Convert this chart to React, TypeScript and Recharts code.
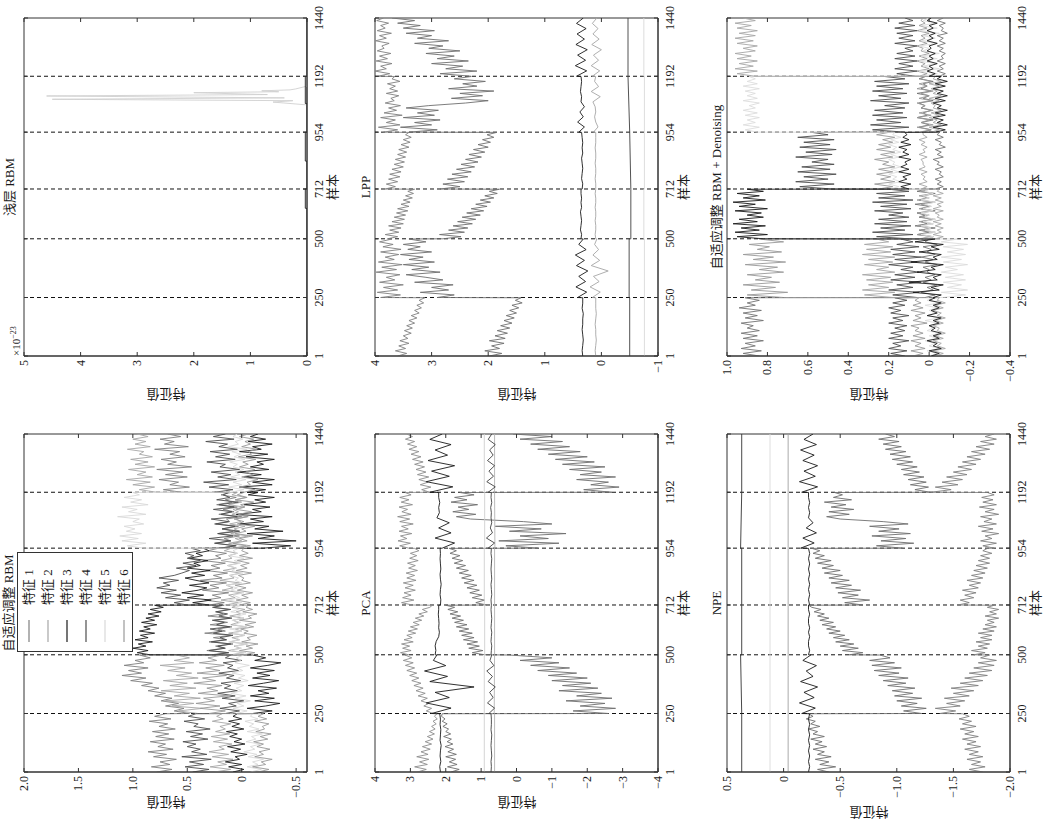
import React from "react";
import { LineChart, Line, XAxis, YAxis, ReferenceLine, ReferenceArea } from "recharts";

// sample axis (样本) and the fault boundaries
const sampleTicks = [1, 250, 500, 712, 954, 1192, 1440];
const faultBounds = [250, 500, 712, 954, 1192];

// read-off positions, 24 per fault segment (noisy traces)
const denseGrid = [
  1, 12, 23, 33, 44, 55, 66, 76, 87, 98, 109, 120, 130, 141, 152, 163, 173, 184, 195, 206, 217, 227, 238, 249,
  250, 261, 272, 282, 293, 304, 315, 325, 336, 347, 358, 369, 379, 390, 401, 412, 422, 433, 444, 455, 466, 476, 487, 499,
  500, 509, 518, 528, 537, 546, 555, 564, 573, 583, 592, 601, 610, 619, 628, 638, 647, 656, 665, 674, 683, 693, 702, 711,
  712, 722, 733, 743, 754, 764, 775, 785, 796, 806, 817, 827, 838, 848, 859, 869, 880, 890, 901, 911, 922, 932, 943, 953,
  954, 964, 975, 985, 995, 1006, 1016, 1026, 1036, 1047, 1057, 1067, 1078, 1088, 1098, 1109, 1119, 1129, 1139, 1150, 1160, 1170, 1181, 1191,
  1192, 1203, 1214, 1224, 1235, 1246, 1257, 1267, 1278, 1289, 1300, 1311, 1321, 1332, 1343, 1354, 1365, 1375, 1386, 1397, 1408, 1418, 1429, 1440,
];
// 12 per segment (mostly quiet traces)
const sampleGrid = [
  1, 24, 46, 69, 91, 114, 136, 159, 181, 204, 226, 249,
  250, 273, 295, 318, 340, 363, 386, 408, 431, 454, 476, 499,
  500, 519, 538, 557, 577, 596, 615, 634, 654, 673, 692, 711,
  712, 734, 756, 778, 800, 822, 843, 865, 887, 909, 931, 953,
  954, 976, 997, 1019, 1040, 1062, 1083, 1105, 1127, 1148, 1170, 1191,
  1192, 1215, 1237, 1260, 1282, 1305, 1327, 1350, 1372, 1395, 1417, 1440,
];
// flat traces: start/end of each segment
const flatGrid = [1, 249, 250, 499, 500, 711, 712, 953, 954, 1191, 1192, 1440];
const edgeGrid = [1, 1440];

const featureNames = ["特征 1", "特征 2", "特征 3", "特征 4", "特征 5", "特征 6"];
const featureColors = ["#7f7f7f", "#a6a6a6", "#1a1a1a", "#4d4d4d", "#d9d9d9", "#999999"];

// ---- 自适应调整 RBM ----
const adaptF1 = [
  .78, .64, .83, .66, .75, .60, .81, .69, .86, .63, .77, .70, .84, .62, .79, .67, .82, .61, .76, .68, .85, .65, .80, .70,
  .48, .62, .53, .70, .58, .74, .64, .80, .70, .86, .76, .92, .82, 1.02, .88, 1.10, .92, 1.04, .86, 1.08, .90, .98, .84, .94,
  .28, .12, .32, .16, .24, .08, .30, .14, .26, .10, .34, .15, .22, .09, .29, .13, .25, .11, .31, .17, .23, .12, .27, .16,
  .30, .16, .34, .19, .27, .12, .36, .21, .29, .14, .38, .18, .26, .13, .33, .20, .28, .15, .35, .19, .24, .14, .31, .22,
  .20, .06, .24, .10, .16, .02, .22, .08, .18, .03, .25, .11, .14, .00, .21, .07, .17, .04, .23, .09, .15, .05, .19, .10,
  .55, .72, .48, .66, .58, .76, .50, .70, .54, .78, .46, .68, .60, .74, .52, .66, .57, .80, .49, .71, .62, .75, .56, .68,
];
const adaptF2 = [
  .25, .10, .29, .14, .22, .08, .27, .12, .30, .16, .21, .09, .26, .13, .28, .11, .24, .15, .20, .10, .27, .17, .23, .18,
  .40, .58, .36, .64, .44, .70, .38, .62, .48, .74, .42, .66, .50, .72, .40, .60, .46, .68, .52, .75, .44, .62, .48, .60,
  .10, -.02, .12, .01, .07, -.05, .11, .02, .09, -.03, .12, .00, .06, -.04, .10, .03, .08, -.02, .11, .01, .05, -.03, .09, .04,
  .15, .03, .19, .06, .12, .00, .18, .08, .14, .02, .20, .07, .11, .01, .17, .05, .13, .03, .19, .09, .12, .04, .16, .10,
  .08, -.04, .12, .00, .06, -.06, .10, .02, .07, -.03, .11, .01, .05, -.05, .09, .03, .08, -.02, .12, .00, .06, -.04, .09, .04,
  .78, .94, .80, 1.00, .84, 1.06, .82, .96, .88, 1.04, .80, .98, .86, 1.02, .82, .94, .90, 1.05, .84, .98, .88, 1.00, .86, .96,
];
const adaptF3 = [
  .08, -.02, .12, .00, .15, .02, .06, -.05, .10, .01, .13, -.03, .07, .00, .11, .04, .14, -.02, .09, .02, .12, .00, .08, .04,
  -.10, -.28, -.05, -.22, -.35, -.12, -.30, -.08, -.25, -.15, -.32, -.06, -.20, -.34, -.10, -.26, -.14, -.30, -.08, -.24, -.36, -.12, -.22, -.10,
  .84, .96, .86, 1.00, .88, .95, .82, .98, .86, .93, .80, .94, .84, .90, .78, .92, .80, .88, .76, .86, .74, .84, .72, .80,
  .30, .45, .28, .50, .35, .55, .40, .32, .48, .30, .42, .52, .34, .46, .29, .50, .38, .44, .31, .48, .36, .42, .30, .35,
  -.20, -.45, -.10, -.50, -.15, -.30, -.05, -.38, -.12, -.25, .02, -.20, -.08, -.28, .05, -.18, -.10, -.26, -.02, -.22, -.12, -.30, -.06, -.15,
  -.05, -.22, .02, -.28, -.10, -.30, -.02, -.18, .04, -.25, -.08, -.20, -.14, -.30, -.04, -.24, .02, -.18, -.10, -.28, -.06, -.22, -.08, -.15,
];
const adaptF4 = [
  .45, .30, .52, .35, .48, .28, .55, .32, .46, .38, .50, .42, .54, .31, .47, .36, .51, .29, .44, .40, .53, .34, .49, .42,
  .15, .02, .20, .05, .12, -.02, .18, .06, .22, .04, .16, .10, .19, .01, .14, .07, .21, .03, .13, .08, .17, .00, .15, .10,
  .25, .12, .30, .15, .22, .10, .28, .14, .20, .08, .26, .18, .29, .11, .23, .16, .27, .09, .21, .13, .24, .10, .26, .18,
  .50, .62, .48, .70, .56, .74, .60, .78, .66, .72, .58, .76, .62, .55, .48, .60, .42, .54, .38, .50, .44, .52, .38, .46,
  .20, .05, .25, .10, .30, .08, .22, .02, .18, .06, .24, .12, .28, .04, .19, .09, .26, .07, .21, .03, .23, .11, .17, .12,
  .25, .08, .30, .12, .35, .05, .22, .10, .28, .02, .20, .15, .32, .06, .24, .11, .29, .04, .21, .13, .33, .07, .26, .15,
];
const adaptF5 = [
  -.08, -.18, -.05, -.15, -.10, -.20, -.06, -.14, -.02, -.12, -.08, -.17, -.04, -.13, -.09, -.19, -.05, -.16, -.07, -.11, -.03, -.15, -.08, -.10,
  .05, -.05, .08, -.02, .04, -.08, .06, -.04, .10, .00, .05, -.02, .07, -.06, .03, -.03, .09, -.01, .04, -.07, .06, .01, .05, -.02,
  .08, -.04, .10, .00, .06, -.06, .12, .02, .05, -.03, .08, .00, .11, -.05, .07, .01, .09, -.02, .04, -.04, .10, .03, .06, .00,
  .10, .00, .12, .02, .08, -.02, .10, .04, .14, .00, .06, .03, .11, -.01, .09, .05, .13, .01, .07, -.02, .12, .04, .08, .03,
  .90, 1.05, .88, 1.10, .95, 1.12, .92, 1.06, .98, 1.08, .90, 1.00, .94, 1.14, .88, 1.04, .96, 1.10, .86, 1.02, .92, 1.08, .94, 1.00,
  .10, -.02, .12, .00, .08, -.04, .10, .02, .06, -.02, .08, .04, .11, -.03, .07, .01, .09, -.05, .12, .03, .06, -.01, .08, .04,
];
const adaptF6 = [
  -.15, -.25, -.10, -.22, -.18, -.28, -.12, -.20, -.16, -.26, -.14, -.20, -.11, -.24, -.17, -.27, -.13, -.21, -.19, -.25, -.12, -.23, -.15, -.20,
  .30, .15, .38, .20, .42, .25, .35, .12, .40, .22, .32, .18, .44, .24, .36, .14, .41, .20, .33, .16, .39, .23, .31, .18,
  -.02, -.12, .02, -.10, -.04, -.15, .00, -.08, -.05, -.14, -.02, -.06, .01, -.11, -.03, -.13, .02, -.09, -.06, -.14, -.01, -.10, -.04, -.06,
  .02, -.08, .05, -.06, .00, -.10, .04, -.04, .06, -.08, .00, -.02, .03, -.09, .05, -.05, .01, -.07, .04, -.10, .02, -.06, .00, -.02,
  .05, -.08, .08, -.05, .02, -.10, .06, -.04, .00, -.12, .04, -.02, .07, -.06, .03, -.09, .05, -.03, .01, -.11, .06, -.05, .04, -.02,
  -.02, -.12, .02, -.08, -.05, -.15, .00, -.10, -.04, -.12, .02, -.06, -.01, -.13, .03, -.09, -.06, -.14, .00, -.08, -.03, -.11, .02, -.06,
];

// ---- 浅层 RBM (×10^-23) ----
const shallowZero = [0, 0];
const shallowF3X = [1, 629, 630, 712, 713, 830, 831, 953, 954, 1075, 1076, 1191, 1192, 1440];
const shallowF3 = [0, 0, 0.03, 0.03, 0, 0, 0.03, 0.03, 0, 0, 0.03, 0.03, 0, 0];
const shallowF5X = [1, 1070, 1076, 1082, 1088, 1094, 1100, 1108, 1114, 1122, 1126, 1130, 1134, 1138, 1150, 1440];
const shallowF5 = [0, 0, 0.3, 0.6, 0.25, 4.5, 0.4, 4.6, 0.7, 2.0, 0.5, 0.8, 0.3, 0.2, 0, 0];

// ---- PCA ----
const pcaF1 = [
  2.80, 2.55, 2.88, 2.52, 2.74, 2.48, 2.82, 2.50, 2.70, 2.44, 2.66, 2.40, 2.58, 2.36, 2.52, 2.32, 2.46, 2.30, 2.40, 2.27, 2.36, 2.24, 2.32, 2.25,
  2.35, 2.55, 2.40, 2.62, 2.48, 2.70, 2.52, 2.78, 2.58, 2.84, 2.64, 2.90, 2.70, 2.96, 2.76, 3.02, 2.82, 3.10, 2.88, 3.14, 2.92, 3.20, 2.96, 3.15,
  3.05, 3.28, 2.98, 3.22, 3.02, 3.25, 2.92, 3.18, 2.95, 3.10, 2.85, 3.06, 2.80, 3.00, 2.75, 2.92, 2.68, 2.86, 2.62, 2.76, 2.52, 2.66, 2.45, 2.38,
  2.95, 3.25, 2.90, 3.22, 2.98, 3.18, 2.86, 3.15, 2.92, 3.20, 2.84, 3.10, 2.88, 3.12, 2.80, 3.05, 2.86, 3.08, 2.78, 3.02, 2.82, 3.00, 2.76, 2.88,
  3.05, 3.30, 3.00, 3.35, 3.10, 3.28, 2.96, 3.32, 3.06, 3.25, 2.92, 3.30, 3.02, 3.36, 2.98, 3.24, 3.08, 3.32, 2.94, 3.26, 3.04, 3.30, 2.98, 3.15,
  2.45, 2.68, 2.42, 2.72, 2.50, 2.76, 2.48, 2.80, 2.56, 2.84, 2.60, 2.88, 2.64, 2.94, 2.70, 2.98, 2.76, 3.04, 2.82, 3.08, 2.88, 3.14, 2.94, 3.10,
];
const pcaF2 = [
  1.85, 1.62, 1.95, 1.68, 1.90, 1.72, 2.00, 1.70, 1.94, 1.78, 2.02, 1.80, 1.96, 1.84, 2.06, 1.86, 2.00, 1.92, 2.08, 1.96, 2.10, 2.02, 2.12, 2.10,
  -2.60, -1.60, -2.80, -1.80, -2.50, -1.40, -2.70, -1.70, -2.40, -1.20, -2.30, -1.30, -2.10, -1.00, -2.00, -0.90, -1.70, -0.60, -1.50, -0.40, -1.20, -0.10, -1.00, 0.20,
  .90, 1.25, .95, 1.35, 1.05, 1.40, 1.10, 1.50, 1.20, 1.55, 1.25, 1.62, 1.35, 1.70, 1.40, 1.75, 1.50, 1.82, 1.58, 1.88, 1.66, 1.94, 1.75, 2.00,
  .85, 1.15, .90, 1.25, .98, 1.32, 1.05, 1.40, 1.12, 1.48, 1.20, 1.55, 1.28, 1.62, 1.36, 1.70, 1.44, 1.76, 1.52, 1.82, 1.60, 1.88, 1.70, 1.90,
  -0.60, 0.30, -1.20, 0.50, -0.90, -0.10, -1.40, 0.20, -0.70, 0.60, -1.00, -0.20, 1.30, 1.70, 1.15, 1.80, 1.35, 1.65, 1.10, 1.85, 1.40, 1.75, 1.20, 1.60,
  -2.70, -1.90, -2.90, -2.10, -2.60, -1.70, -2.80, -1.80, -2.40, -1.50, -2.50, -1.30, -2.20, -1.10, -2.00, -0.90, -1.80, -0.60, -1.50, -0.40, -1.30, -0.10, -1.00, 0.10,
];
const pcaF3 = [
  2.15, 2.17, 2.14, 2.16, 2.15, 2.13, 2.16, 2.15, 2.14, 2.16, 2.15, 2.17,
  2.40, 1.85, 2.55, 1.90, 2.30, 1.20, 2.45, 1.95, 2.60, 2.00, 2.35, 2.25,
  2.30, 2.28, 2.30, 2.27, 2.20, 2.18, 2.20, 2.19, 2.20, 2.21, 2.20, 2.20,
  2.15, 2.14, 2.16, 2.15, 2.13, 2.15, 2.16, 2.14, 2.15, 2.16, 2.15, 2.16,
  2.10, 1.75, 2.30, 1.85, 2.20, 1.90, 2.25, 2.18, 2.20, 2.17, 2.20, 2.20,
  2.45, 1.80, 2.55, 1.90, 2.40, 1.75, 2.50, 1.95, 2.30, 1.85, 2.45, 2.10,
];
const pcaF4 = [0.91, 0.91, 0.91, 0.91, 0.9, 0.9, 0.91, 0.91, 0.9, 0.9, 0.91, 0.91];
const pcaF5 = [
  0.72, 0.71, 0.72, 0.70, 0.71, 0.72, 0.71, 0.70, 0.72, 0.71, 0.71, 0.72,
  0.78, 0.62, 0.82, 0.66, 0.76, 0.60, 0.80, 0.68, 0.84, 0.64, 0.75, 0.70,
  0.72, 0.71, 0.70, 0.72, 0.71, 0.70, 0.72, 0.71, 0.70, 0.71, 0.72, 0.71,
  0.71, 0.72, 0.70, 0.71, 0.72, 0.70, 0.71, 0.72, 0.71, 0.70, 0.72, 0.71,
  0.80, 0.62, 0.85, 0.68, 0.74, 0.70, 0.72, 0.71, 0.73, 0.70, 0.72, 0.71,
  0.80, 0.60, 0.84, 0.65, 0.78, 0.62, 0.82, 0.66, 0.76, 0.60, 0.80, 0.70,
];
const pcaF6 = [0.62, 0.62, 0.63, 0.62, 0.62, 0.62, 0.62, 0.62, 0.61, 0.62, 0.62, 0.62];

// ---- LPP ----
const lppF1 = [
  3.60, 3.44, 3.64, 3.46, 3.58, 3.40, 3.56, 3.42, 3.50, 3.36, 3.48, 3.34, 3.44, 3.30, 3.40, 3.26, 3.36, 3.22, 3.30, 3.18, 3.26, 3.14, 3.22, 3.12,
  3.90, 3.55, 3.96, 3.60, 3.85, 3.50, 3.92, 3.65, 3.80, 3.56, 3.98, 3.62, 3.88, 3.52, 3.94, 3.66, 3.82, 3.58, 3.90, 3.54, 3.86, 3.68, 3.92, 3.70,
  3.78, 3.60, 3.82, 3.58, 3.74, 3.54, 3.76, 3.50, 3.70, 3.48, 3.66, 3.46, 3.62, 3.42, 3.60, 3.40, 3.54, 3.38, 3.50, 3.34, 3.46, 3.32, 3.42, 3.30,
  3.82, 3.64, 3.80, 3.60, 3.76, 3.56, 3.74, 3.54, 3.70, 3.50, 3.66, 3.48, 3.64, 3.46, 3.60, 3.44, 3.58, 3.40, 3.54, 3.38, 3.50, 3.36, 3.46, 3.40,
  3.85, 3.60, 3.94, 3.56, 3.80, 3.64, 3.90, 3.52, 3.84, 3.62, 3.76, 3.55, 3.82, 3.66, 3.72, 3.58, 3.80, 3.60, 3.74, 3.64, 3.78, 3.56, 3.70, 3.65,
  3.95, 3.74, 4.00, 3.80, 3.90, 3.70, 3.98, 3.78, 3.92, 3.72, 3.96, 3.84, 3.88, 3.75, 3.99, 3.80, 3.92, 3.71, 3.96, 3.82, 3.90, 3.76, 3.97, 3.85,
];
const lppF2 = [
  1.98, 1.76, 2.06, 1.80, 1.94, 1.72, 1.98, 1.70, 1.88, 1.66, 1.84, 1.62, 1.78, 1.58, 1.72, 1.54, 1.68, 1.50, 1.62, 1.46, 1.58, 1.40, 1.52, 1.42,
  2.90, 2.60, 3.20, 2.70, 3.00, 2.62, 3.30, 2.80, 3.10, 3.45, 2.85, 3.35, 3.05, 3.50, 2.95, 3.40, 3.15, 3.55, 3.00, 3.42, 3.20, 3.50, 3.10, 3.40,
  2.80, 2.48, 2.86, 2.42, 2.70, 2.36, 2.62, 2.28, 2.54, 2.22, 2.46, 2.14, 2.38, 2.08, 2.30, 2.02, 2.22, 1.96, 2.14, 1.90, 2.06, 1.84, 1.98, 1.80,
  2.85, 2.50, 2.80, 2.42, 2.72, 2.36, 2.64, 2.30, 2.56, 2.24, 2.48, 2.18, 2.40, 2.12, 2.34, 2.06, 2.26, 2.00, 2.18, 1.96, 2.10, 1.90, 2.02, 1.85,
  3.40, 2.90, 3.55, 3.00, 3.30, 2.85, 3.50, 2.95, 3.25, 2.88, 3.45, 3.05, 2.40, 2.00, 2.65, 2.10, 2.50, 1.90, 2.70, 2.20, 2.45, 2.05, 2.60, 2.30,
  2.30, 2.85, 2.20, 2.75, 2.45, 3.00, 2.35, 2.90, 2.60, 3.10, 2.50, 3.05, 2.80, 3.30, 2.70, 3.25, 3.00, 3.45, 2.95, 3.50, 3.20, 3.60, 3.30, 3.70,
];
const lppF3 = [
  0.33, 0.34, 0.33, 0.32, 0.33, 0.34, 0.33, 0.33, 0.32, 0.34, 0.33, 0.33,
  0.42, 0.26, 0.45, 0.28, 0.40, 0.24, 0.44, 0.30, 0.46, 0.27, 0.40, 0.32,
  0.36, 0.35, 0.37, 0.36, 0.35, 0.36, 0.37, 0.35, 0.36, 0.35, 0.36, 0.36,
  0.34, 0.33, 0.35, 0.34, 0.33, 0.34, 0.35, 0.33, 0.34, 0.33, 0.34, 0.35,
  0.40, 0.30, 0.42, 0.32, 0.38, 0.30, 0.36, 0.35, 0.37, 0.36, 0.35, 0.36,
  0.44, 0.26, 0.46, 0.28, 0.42, 0.25, 0.45, 0.30, 0.43, 0.27, 0.44, 0.32,
];
const lppF4 = [
  0.10, 0.11, 0.10, 0.09, 0.10, 0.10, 0.11, 0.10, 0.09, 0.10, 0.10, 0.10,
  0.16, 0.02, 0.20, 0.04, 0.14, -0.12, 0.18, 0.03, 0.15, 0.05, 0.12, 0.08,
  0.10, 0.11, 0.10, 0.10, 0.11, 0.10, 0.10, 0.11, 0.10, 0.10, 0.11, 0.10,
  0.10, 0.10, 0.11, 0.10, 0.10, 0.11, 0.10, 0.10, 0.11, 0.10, 0.10, 0.10,
  0.14, 0.06, 0.10, 0.12, 0.10, 0.11, 0.15, 0.02, 0.18, 0.05, 0.12, 0.10,
  0.16, 0.03, 0.18, 0.05, 0.14, 0.00, 0.17, 0.04, 0.15, 0.06, 0.16, 0.08,
];
const lppF5 = [-0.5, -0.5, -0.49, -0.49, -0.52, -0.52, -0.52, -0.5, -0.5, -0.47, -0.47, -0.47];
const lppF6 = [-0.76, -0.76, -0.76, -0.76, -0.75, -0.75, -0.76, -0.76, -0.76, -0.76, -0.75, -0.75];

// ---- NPE ----
const npeF1 = [0.37, 0.37, 0.37, 0.38, 0.37, 0.37, 0.37, 0.37, 0.38, 0.37, 0.37, 0.37];
const npeF2 = [0.12, 0.12, 0.12, 0.12, 0.12, 0.12, 0.12, 0.12, 0.12, 0.12, 0.12, 0.12];
const npeF3 = [-0.04, -0.04, -0.04, -0.04, -0.04, -0.04, -0.04, -0.04, -0.04, -0.04, -0.04, -0.04];
const npeF4 = [
  -0.22, -0.23, -0.22, -0.23, -0.22, -0.23, -0.22, -0.23, -0.22, -0.23, -0.22, -0.23,
  -0.16, -0.28, -0.14, -0.27, -0.18, -0.30, -0.15, -0.26, -0.20, -0.29, -0.17, -0.24,
  -0.22, -0.23, -0.22, -0.22, -0.23, -0.22, -0.23, -0.22, -0.22, -0.23, -0.22, -0.22,
  -0.23, -0.22, -0.23, -0.22, -0.23, -0.22, -0.23, -0.22, -0.23, -0.22, -0.23, -0.22,
  -0.15, -0.27, -0.17, -0.29, -0.20, -0.26, -0.22, -0.23, -0.22, -0.23, -0.22, -0.22,
  -0.16, -0.30, -0.14, -0.28, -0.18, -0.30, -0.17, -0.27, -0.15, -0.29, -0.18, -0.26,
];
const npeF5 = [
  -.40, -.30, -.46, -.32, -.40, -.28, -.42, -.30, -.36, -.26, -.38, -.28, -.34, -.24, -.36, -.26, -.30, -.22, -.32, -.24, -.28, -.20, -.26, -.22,
  -1.22, -1.06, -1.26, -1.04, -1.18, -1.00, -1.22, -.98, -1.14, -.96, -1.16, -.92, -1.08, -.88, -1.10, -.84, -1.02, -.80, -1.04, -.78, -.98, -.76, -.94, -.85,
  -.58, -.70, -.52, -.66, -.50, -.62, -.46, -.58, -.44, -.54, -.40, -.50, -.38, -.46, -.34, -.44, -.32, -.40, -.30, -.36, -.27, -.33, -.25, -.22,
  -.70, -.54, -.76, -.52, -.66, -.48, -.68, -.46, -.60, -.42, -.58, -.40, -.52, -.36, -.50, -.34, -.44, -.30, -.42, -.28, -.36, -.26, -.32, -.25,
  -1.05, -.82, -1.15, -.86, -1.08, -.78, -1.12, -.84, -1.02, -.76, -1.10, -.88, -.50, -.38, -.58, -.40, -.62, -.42, -.55, -.36, -.60, -.44, -.52, -.45,
  -1.30, -1.16, -1.28, -1.12, -1.26, -1.10, -1.24, -1.06, -1.20, -1.04, -1.18, -1.00, -1.14, -.96, -1.12, -.94, -1.08, -.90, -1.04, -.88, -1.02, -.84, -.98, -.90,
];
const npeF6 = [
  -1.76, -1.64, -1.78, -1.66, -1.74, -1.62, -1.76, -1.64, -1.72, -1.60, -1.74, -1.62, -1.70, -1.58, -1.72, -1.60, -1.68, -1.56, -1.70, -1.58, -1.66, -1.55, -1.64, -1.58,
  -1.38, -1.52, -1.34, -1.56, -1.44, -1.60, -1.42, -1.64, -1.50, -1.68, -1.48, -1.72, -1.56, -1.76, -1.60, -1.80, -1.64, -1.84, -1.68, -1.86, -1.72, -1.88, -1.74, -1.82,
  -1.68, -1.78, -1.66, -1.80, -1.72, -1.82, -1.70, -1.84, -1.74, -1.84, -1.72, -1.86, -1.76, -1.88, -1.78, -1.86, -1.80, -1.90, -1.78, -1.88, -1.82, -1.90, -1.80, -1.86,
  -1.54, -1.64, -1.56, -1.68, -1.60, -1.70, -1.58, -1.72, -1.64, -1.74, -1.62, -1.76, -1.66, -1.78, -1.68, -1.80, -1.70, -1.82, -1.72, -1.82, -1.74, -1.84, -1.76, -1.80,
  -1.86, -1.76, -1.88, -1.74, -1.84, -1.78, -1.90, -1.75, -1.85, -1.72, -1.88, -1.77, -1.84, -1.74, -1.90, -1.78, -1.86, -1.73, -1.88, -1.76, -1.85, -1.75, -1.86, -1.80,
  -1.30, -1.48, -1.34, -1.54, -1.40, -1.58, -1.44, -1.62, -1.50, -1.66, -1.54, -1.70, -1.58, -1.74, -1.62, -1.78, -1.66, -1.82, -1.70, -1.86, -1.74, -1.88, -1.78, -1.86,
];

// ---- 自适应调整 RBM + Denoising ----
const denoiseF1 = [
  .84, .92, .83, .93, .86, .91, .82, .92, .85, .93, .84, .90, .87, .93, .82, .91, .85, .92, .83, .94, .86, .90, .84, .91,
  .02, -.03, .04, -.02, .01, -.04, .03, -.01, .02, -.03, .01, .00, .03, -.04, .02, -.02, .04, -.03, .01, -.01, .03, -.04, .02, .00,
  .04, -.02, .06, .00, .05, -.03, .07, .01, .04, -.02, .05, .02, .06, -.03, .04, .00, .07, -.02, .05, .01, .03, -.03, .06, .02,
  -.03, -.07, -.04, -.06, -.03, -.07, -.05, -.06, -.03, -.07, -.04, -.05, -.02, -.07, -.04, -.06, -.03, -.08, -.05, -.06, -.03, -.07, -.04, -.05,
  .03, -.01, .05, .00, .04, -.02, .06, .01, .03, -.01, .04, .02, .05, -.02, .03, .00, .06, -.01, .04, .01, .03, -.02, .05, .02,
  -.05, -.08, -.04, -.07, -.05, -.08, -.04, -.07, -.06, -.08, -.05, -.07, -.04, -.08, -.05, -.07, -.04, -.09, -.06, -.07, -.05, -.08, -.04, -.07,
];
const denoiseF2 = [
  .08, .03, .09, .02, .07, .04, .09, .02, .08, .03, .07, .05, .09, .01, .08, .04, .07, .02, .09, .03, .08, .04, .07, .05,
  .72, .90, .70, .88, .76, .92, .74, .86, .78, .90, .72, .84, .75, .91, .71, .87, .77, .92, .73, .85, .79, .89, .72, .84,
  .05, -.02, .06, -.03, .04, -.01, .06, -.02, .05, -.03, .04, .00, .06, -.02, .05, -.01, .04, -.03, .06, .00, .05, -.02, .04, .00,
  .25, .18, .27, .17, .24, .19, .26, .18, .25, .17, .23, .20, .27, .18, .24, .17, .26, .19, .25, .18, .23, .17, .26, .20,
  .05, -.01, .06, -.02, .04, .00, .06, -.01, .05, -.02, .04, .02, .06, -.01, .05, .00, .04, -.02, .06, .01, .05, -.01, .04, .02,
  .05, .01, .06, .00, .04, .02, .06, .01, .05, .00, .04, .03, .06, .01, .05, .02, .04, .00, .06, .01, .05, .02, .04, .03,
];
const denoiseF3 = [
  -.01, -.05, .00, -.06, -.02, -.04, .01, -.05, -.02, -.06, -.01, -.03, .00, -.05, -.02, -.06, .01, -.04, -.01, -.05, -.02, -.06, .00, -.03,
  -.02, -.06, .08, -.05, -.01, -.07, .10, -.04, -.02, -.06, .06, -.03, -.01, -.07, .09, -.04, -.02, -.06, .05, -.05, -.01, -.07, .07, -.03,
  .82, .95, .80, .96, .84, .93, .81, .97, .85, .94, .82, .90, .83, .96, .80, .94, .86, .97, .81, .92, .84, .95, .82, .90,
  .10, .14, .09, .15, .11, .13, .09, .15, .10, .14, .11, .12, .09, .15, .10, .13, .11, .15, .09, .14, .10, .13, .11, .12,
  -.03, -.08, -.02, -.09, -.04, -.07, -.02, -.08, -.03, -.09, -.04, -.06, -.02, -.08, -.03, -.09, -.04, -.07, -.02, -.08, -.03, -.09, -.04, -.06,
  .00, -.03, .01, -.02, .00, -.04, .01, -.02, .00, -.03, .01, -.01, .00, -.04, .01, -.02, .00, -.03, .01, -.02, .00, -.04, .01, -.01,
];
const denoiseF4 = [
  .12, .19, .11, .20, .14, .18, .10, .20, .13, .19, .12, .17, .11, .20, .13, .18, .10, .19, .14, .20, .12, .18, .11, .17,
  .06, .18, .05, .20, .08, .16, .04, .19, .07, .17, .05, .14, .08, .20, .06, .17, .04, .18, .07, .19, .05, .16, .08, .14,
  .10, .26, .08, .28, .12, .24, .09, .27, .11, .25, .10, .20, .13, .27, .09, .24, .11, .28, .08, .25, .12, .26, .10, .20,
  .48, .64, .47, .66, .50, .62, .46, .65, .49, .63, .47, .58, .50, .66, .48, .61, .46, .64, .49, .62, .47, .65, .50, .58,
  .12, .28, .10, .29, .14, .26, .11, .28, .13, .27, .12, .22, .10, .29, .14, .25, .11, .28, .13, .26, .10, .27, .12, .22,
  .07, .16, .06, .17, .08, .15, .06, .17, .07, .16, .08, .12, .06, .17, .07, .15, .08, .16, .06, .17, .07, .15, .08, .12,
];
const denoiseF5 = [
  .00, -.04, .01, -.05, .00, -.03, .02, -.04, .00, -.05, .01, -.02, .00, -.04, .02, -.05, .01, -.03, .00, -.04, .02, -.05, .01, -.02,
  -.07, -.18, -.06, -.19, -.09, -.16, -.07, -.18, -.08, -.17, -.06, -.14, -.08, -.19, -.07, -.16, -.06, -.18, -.09, -.17, -.07, -.19, -.06, -.14,
  .03, -.02, .04, -.03, .02, -.01, .04, -.02, .03, -.03, .02, .00, .04, -.02, .03, -.01, .02, -.03, .04, .00, .03, -.02, .02, .00,
  .19, .15, .20, .14, .18, .16, .20, .15, .19, .14, .18, .17, .20, .15, .19, .14, .18, .16, .20, .15, .19, .14, .18, .17,
  .85, .91, .84, .92, .86, .90, .84, .91, .85, .92, .86, .89, .84, .92, .85, .90, .86, .91, .84, .92, .85, .90, .86, .89,
  .04, -.04, .05, -.05, .03, -.03, .05, -.04, .04, -.05, .03, .00, .05, -.04, .04, -.03, .03, -.05, .05, -.04, .04, -.03, .03, .00,
];
const denoiseF6 = [
  -.03, -.07, -.02, -.08, -.04, -.06, -.02, -.07, -.03, -.08, -.04, -.05, -.02, -.07, -.03, -.08, -.04, -.06, -.02, -.07, -.03, -.08, -.04, -.05,
  .18, .32, .17, .33, .20, .30, .18, .31, .19, .33, .17, .26, .20, .32, .18, .30, .17, .33, .19, .31, .18, .32, .20, .26,
  -.03, -.07, -.02, -.06, -.04, -.07, -.03, -.06, -.02, -.07, -.04, -.05, -.03, -.07, -.02, -.06, -.04, -.07, -.03, -.06, -.02, -.07, -.04, -.05,
  .04, .01, .05, .01, .03, .02, .04, .01, .05, .02, .03, .03, .04, .01, .05, .02, .03, .01, .04, .02, .05, .01, .03, .03,
  -.01, -.05, .00, -.06, -.02, -.04, .00, -.05, -.01, -.06, -.02, -.03, -.01, -.05, .00, -.06, -.02, -.04, -.01, -.05, .00, -.06, -.02, -.03,
  .86, .95, .85, .96, .87, .94, .85, .95, .88, .96, .86, .92, .85, .95, .87, .96, .86, .94, .85, .95, .88, .96, .86, .92,
];

// y ticks per panel
const adaptTicks = [-0.5, 0, 0.5, 1, 1.5, 2];
const adaptTickLabels = ["−0.5", "0", "0.5", "1.0", "1.5", "2.0"];
const shallowTicks = [0, 1, 2, 3, 4, 5];
const shallowTickLabels = ["0", "1", "2", "3", "4", "5"];
const pcaTicks = [-4, -3, -2, -1, 0, 1, 2, 3, 4];
const pcaTickLabels = ["−4", "−3", "−2", "−1", "0", "1", "2", "3", "4"];
const lppTicks = [-1, 0, 1, 2, 3, 4];
const lppTickLabels = ["−1", "0", "1", "2", "3", "4"];
const npeTicks = [-2, -1.5, -1, -0.5, 0, 0.5];
const npeTickLabels = ["−2.0", "−1.5", "−1.0", "−0.5", "0", "0.5"];
const denoiseTicks = [-0.4, -0.2, 0, 0.2, 0.4, 0.6, 0.8, 1];
const denoiseTickLabels = ["−0.4", "−0.2", "0", "0.2", "0.4", "0.6", "0.8", "1.0"];

const FONT = '"Liberation Serif", "Times New Roman", "Noto Sans CJK SC", serif';
const INK = "#1a1a1a";
// plot box inside each chart
const PL = 52;
const PT = 30;
const PW = 338;
const PH = 283;

type Series = { name: string; color: string; xs: number[]; ys: number[] };
type PanelSpec = {
  title: string;
  left: number;
  top: number;
  domain: [number, number];
  ticks: number[];
  tickLabels: string[];
  series: Series[];
  yLabelGap: number;
  titleGap: number;
};

const toPoints = (xs: number[], ys: number[]) => xs.map((x, i) => ({ x, y: ys[i] }));

function Panel({ spec }: { spec: PanelSpec }) {
  const W = PL + PW + 12;
  const H = PT + PH + 50;
  const [lo, hi] = spec.domain;

  const xTick = (p: any) => {
    const x = p.x;
    return (
      <g>
        <line x1={x} x2={x} y1={PT + PH} y2={PT + PH - 4} stroke="#333" />
        <line x1={x} x2={x} y1={PT} y2={PT + 4} stroke="#333" />
        <text x={x} y={PT + PH + 16} textAnchor="middle" fontSize={12} fill={INK} fontFamily={FONT}>
          {p.payload.value}
        </text>
      </g>
    );
  };
  const yTick = (p: any) => {
    const y = p.y;
    const i = spec.ticks.indexOf(p.payload.value);
    return (
      <g>
        <line x1={PL} x2={PL + 4} y1={y} y2={y} stroke="#333" />
        <line x1={PL + PW} x2={PL + PW - 4} y1={y} y2={y} stroke="#333" />
        <text x={PL - 4} y={y + 4} textAnchor="end" fontSize={12} fill={INK} fontFamily={FONT}>
          {i >= 0 ? spec.tickLabels[i] : p.payload.value}
        </text>
      </g>
    );
  };

  return (
    <div style={{ position: "absolute", left: spec.left - PL, top: spec.top - PT, width: W, height: H }}>
      <LineChart width={W} height={H} margin={{ top: PT, right: 12, bottom: 20, left: 0 }}>
        <XAxis
          dataKey="x"
          type="number"
          domain={[1, 1440]}
          ticks={sampleTicks}
          interval={0}
          height={30}
          allowDataOverflow
          axisLine={{ stroke: "#333" }}
          tickLine={false}
          tick={xTick}
        />
        <YAxis
          type="number"
          domain={spec.domain}
          ticks={spec.ticks}
          interval={0}
          width={PL}
          allowDataOverflow
          axisLine={{ stroke: "#333" }}
          tickLine={false}
          tick={yTick}
        />
        {faultBounds.map((b) => (
          <ReferenceLine key={b} x={b} stroke="#111" strokeDasharray="4 3" strokeWidth={1} />
        ))}
        {spec.series.map((s) => (
          <Line
            key={s.name}
            data={toPoints(s.xs, s.ys)}
            dataKey="y"
            type="linear"
            stroke={s.color}
            strokeWidth={0.9}
            dot={false}
            activeDot={false}
            isAnimationActive={false}
          />
        ))}
        <ReferenceArea x1={1} x2={1440} y1={lo} y2={hi} fill="none" stroke="#333" strokeWidth={1} ifOverflow="visible" />
      </LineChart>
      <div
        style={{
          position: "absolute",
          left: PL,
          width: PW,
          top: PT - spec.titleGap - 8,
          lineHeight: "16px",
          textAlign: "center",
          fontSize: 13,
          whiteSpace: "nowrap",
        }}
      >
        {spec.title}
      </div>
      <div
        style={{
          position: "absolute",
          left: PL,
          width: PW,
          top: PT + PH + 19,
          lineHeight: "14px",
          textAlign: "center",
          fontSize: 13,
        }}
      >
        样本
      </div>
      <div
        style={{
          position: "absolute",
          left: PL - spec.yLabelGap,
          top: PT + PH / 2,
          transform: "translate(-50%, -50%) rotate(-90deg)",
          fontSize: 13,
          lineHeight: "14px",
          whiteSpace: "nowrap",
        }}
      >
        特征值
      </div>
    </div>
  );
}

const feat = (ys: number[], k: number, xs: number[] = denseGrid): Series => ({
  name: featureNames[k],
  color: featureColors[k],
  xs,
  ys,
});

const panels: PanelSpec[] = [
  {
    title: "自适应调整 RBM",
    left: 52,
    top: 24,
    domain: [-0.6, 2],
    ticks: adaptTicks,
    tickLabels: adaptTickLabels,
    yLabelGap: 30,
    titleGap: 15,
    series: [feat(adaptF1, 0), feat(adaptF2, 1), feat(adaptF3, 2), feat(adaptF4, 3), feat(adaptF5, 4), feat(adaptF6, 5)],
  },
  {
    title: "浅层 RBM",
    left: 468,
    top: 24,
    domain: [0, 5],
    ticks: shallowTicks,
    tickLabels: shallowTickLabels,
    yLabelGap: 38,
    titleGap: 14,
    series: [
      feat(shallowZero, 0, edgeGrid),
      feat(shallowZero, 1, edgeGrid),
      feat(shallowZero, 3, edgeGrid),
      feat(shallowZero, 5, edgeGrid),
      { name: "f5", color: "#d0d0d0", xs: shallowF5X, ys: shallowF5 },
      { name: "f3", color: "#1a1a1a", xs: shallowF3X, ys: shallowF3 },
    ],
  },
  {
    title: "PCA",
    left: 52,
    top: 375,
    domain: [-4, 4],
    ticks: pcaTicks,
    tickLabels: pcaTickLabels,
    yLabelGap: 30,
    titleGap: 9,
    series: [
      { name: "p1", color: "#8c8c8c", xs: denseGrid, ys: pcaF1 },
      { name: "p2", color: "#6e6e6e", xs: denseGrid, ys: pcaF2 },
      { name: "p4", color: "#d0d0d0", xs: flatGrid, ys: pcaF4 },
      { name: "p6", color: "#b3b3b3", xs: flatGrid, ys: pcaF6 },
      { name: "p5", color: "#404040", xs: sampleGrid, ys: pcaF5 },
      { name: "p3", color: "#1a1a1a", xs: sampleGrid, ys: pcaF3 },
    ],
  },
  {
    title: "LPP",
    left: 468,
    top: 375,
    domain: [-1, 4],
    ticks: lppTicks,
    tickLabels: lppTickLabels,
    yLabelGap: 38,
    titleGap: 9,
    series: [
      { name: "l1", color: "#808080", xs: denseGrid, ys: lppF1 },
      { name: "l2", color: "#6e6e6e", xs: denseGrid, ys: lppF2 },
      { name: "l6", color: "#d9d9d9", xs: flatGrid, ys: lppF6 },
      { name: "l5", color: "#404040", xs: flatGrid, ys: lppF5 },
      { name: "l4", color: "#a6a6a6", xs: sampleGrid, ys: lppF4 },
      { name: "l3", color: "#1a1a1a", xs: sampleGrid, ys: lppF3 },
    ],
  },
  {
    title: "NPE",
    left: 52,
    top: 727,
    domain: [-2, 0.5],
    ticks: npeTicks,
    tickLabels: npeTickLabels,
    yLabelGap: 40,
    titleGap: 10,
    series: [
      { name: "n2", color: "#d9d9d9", xs: flatGrid, ys: npeF2 },
      { name: "n3", color: "#a0a0a0", xs: flatGrid, ys: npeF3 },
      { name: "n1", color: "#333333", xs: flatGrid, ys: npeF1 },
      { name: "n5", color: "#6e6e6e", xs: denseGrid, ys: npeF5 },
      { name: "n6", color: "#7f7f7f", xs: denseGrid, ys: npeF6 },
      { name: "n4", color: "#1a1a1a", xs: sampleGrid, ys: npeF4 },
    ],
  },
  {
    title: "自适应调整 RBM + Denoising",
    left: 468,
    top: 727,
    domain: [-0.4, 1],
    ticks: denoiseTicks,
    tickLabels: denoiseTickLabels,
    yLabelGap: 38,
    titleGap: 10,
    series: [
      { name: "d1", color: "#737373", xs: denseGrid, ys: denoiseF1 },
      { name: "d2", color: "#999999", xs: denseGrid, ys: denoiseF2 },
      { name: "d4", color: "#4d4d4d", xs: denseGrid, ys: denoiseF4 },
      { name: "d5", color: "#dcdcdc", xs: denseGrid, ys: denoiseF5 },
      { name: "d6", color: "#a6a6a6", xs: denseGrid, ys: denoiseF6 },
      { name: "d3", color: "#1a1a1a", xs: denseGrid, ys: denoiseF3 },
    ],
  },
];

function FeatureLegend() {
  return (
    <div
      style={{
        position: "absolute",
        left: 172,
        top: 17,
        width: 100,
        height: 116,
        boxSizing: "border-box",
        border: "1px solid #333",
        background: "#fff",
        paddingTop: 1,
      }}
    >
      {featureNames.map((n, i) => (
        <div key={n} style={{ display: "flex", alignItems: "center", height: 19 }}>
          <svg width={46} height={10} style={{ flex: "none" }}>
            <line x1={9} x2={31} y1={5} y2={5} stroke={featureColors[i]} strokeWidth={1.2} />
          </svg>
          <span style={{ fontSize: 13, lineHeight: "14px", whiteSpace: "nowrap" }}>{n}</span>
        </div>
      ))}
    </div>
  );
}

export default function App() {
  return (
    <div
      style={{
        position: "absolute",
        left: 0,
        top: 0,
        width: 1053,
        height: 824,
        overflow: "hidden",
        background: "#fff",
      }}
    >
      {/* the figure is laid out upright, then turned a quarter turn counter-clockwise */}
      <div
        style={{
          position: "absolute",
          left: 0,
          top: 0,
          width: 824,
          height: 1053,
          transformOrigin: "0 0",
          transform: "translate(0px, 824px) rotate(-90deg)",
          fontFamily: FONT,
          color: INK,
        }}
      >
        {panels.map((p) => (
          <Panel key={p.title} spec={p} />
        ))}
        <FeatureLegend />
        <div style={{ position: "absolute", left: 468, top: 8, fontSize: 11, lineHeight: "12px", whiteSpace: "nowrap" }}>
          ×10<sup style={{ fontSize: 8, verticalAlign: "4px" }}>−23</sup>
        </div>
      </div>
    </div>
  );
}
